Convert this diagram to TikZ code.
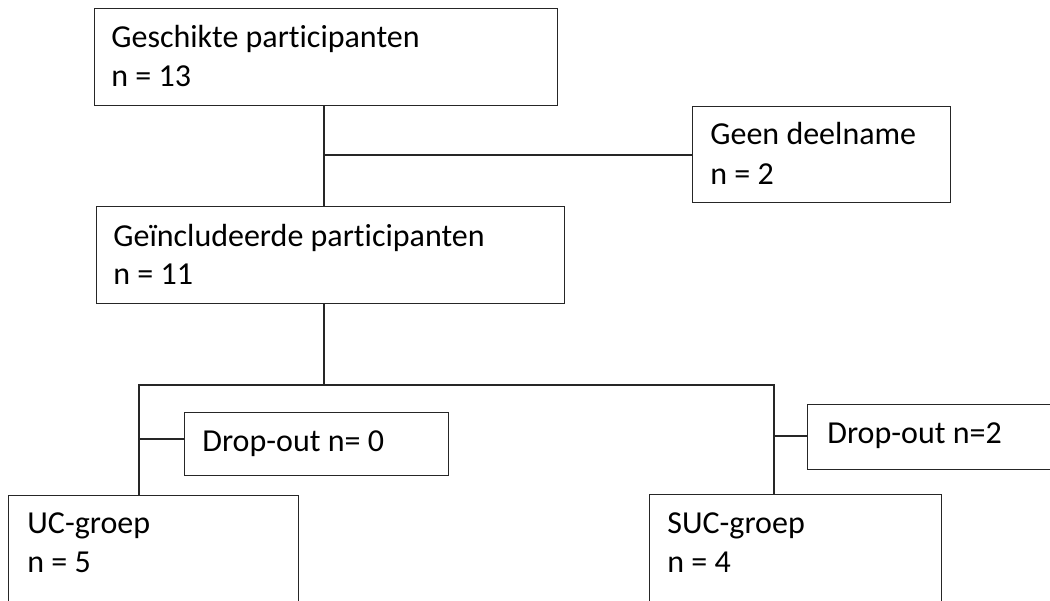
\documentclass[tikz,border=0pt]{standalone}
\usepackage{fontspec}
\setmainfont{Carlito}[Ligatures={NoCommon}]
\begin{document}
\begin{tikzpicture}[x=0.5pt,y=-0.5pt,
  boxline/.style={draw=black!85,line width=0.7pt},
  flowbox/.style={boxline,rectangle,inner sep=0pt,anchor=north west},
  conn/.style={draw=black!85,line width=0.7pt},
  txt/.style={anchor=base west,inner sep=0pt,font=\fontsize{16}{19}\selectfont}]
\useasboundingbox (0,0) rectangle (1050,600);
\clip (0,0) rectangle (1050,600);
% boxes
\node[flowbox,minimum width=231.5pt,minimum height=48.5pt] (b1) at (94,8) {};
\node[flowbox,minimum width=129pt,minimum height=48pt] (geen) at (692,106) {};
\node[flowbox,minimum width=234pt,minimum height=48.5pt] (b2) at (96,206) {};
\node[flowbox,minimum width=132pt,minimum height=31.5pt] (d0) at (184,412) {};
\node[flowbox,minimum width=130pt,minimum height=32.5pt] (d2) at (807,404) {};
\node[flowbox,minimum width=145pt,minimum height=60pt] (uc) at (8,495) {};
\node[flowbox,minimum width=146pt,minimum height=60pt] (suc) at (649,494) {};
% texts
\node[txt] (t1a) at (111,47) {Geschikte participanten};
\node[txt] (t1b) at (111,86) {n = 13};
\node[txt] (tga) at (710,144) {Geen deelname};
\node[txt] (tgb) at (710,184) {n = 2};
\node[txt] (t2a) at (113,246) {Geïncludeerde participanten};
\node[txt] (t2b) at (113,284) {n = 11};
\node[txt] (td0) at (202,451) {Drop-out n= 0};
\node[txt] (td2) at (827,443) {Drop-out n=2};
\node[txt] (tua) at (27,533) {UC-groep};
\node[txt] (tub) at (27,572) {n = 5};
\node[txt] (tsa) at (667,533) {SUC-groep};
\node[txt] (tsb) at (667,572) {n = 4};
% connector junctions
\coordinate (j1) at (324,155);
\coordinate (j2) at (324,385);
\coordinate (jl) at (139,385);
\coordinate (jr) at (774,385);
\coordinate (jd0) at (139,439);
\coordinate (jd2) at (774,436);
\draw[conn] (j1 |- b1.south) -- (j1 |- b2.north);
\draw[conn] (j1) -- (j1 -| geen.west);
\draw[conn] (j2 |- b2.south) -- (j2);
\draw[conn] (jl |- uc.north) -- (jl) -- (jr) -- (jr |- suc.north);
\draw[conn] (jd0) -- (jd0 -| d0.west);
\draw[conn] (jd2) -- (jd2 -| d2.west);
\end{tikzpicture}
\end{document}
